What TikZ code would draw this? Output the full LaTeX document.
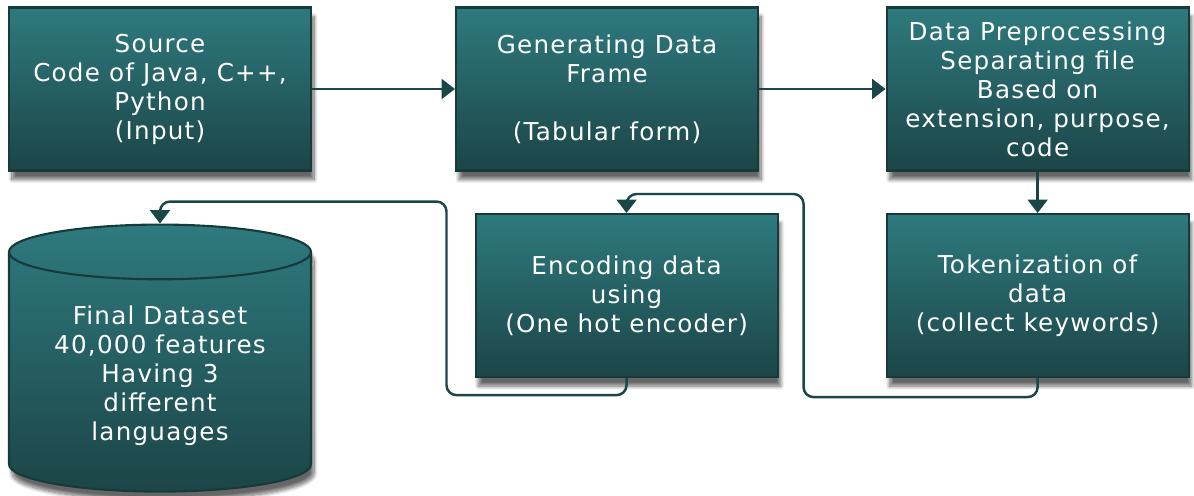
\documentclass[tikz,border=0pt]{standalone}
\usepackage{fontspec}
\setmainfont{DejaVu Sans}[LetterSpace=5]
\usetikzlibrary{shapes.geometric, arrows.meta, positioning, calc, shadows.blur}

\definecolor{tealtop}{HTML}{2E7A7E}
\definecolor{tealbot}{HTML}{1C4547}
\definecolor{tealline}{HTML}{173A3B}
\definecolor{flowline}{HTML}{1A4647}

\tikzset{
  process/.style = {rectangle, draw=tealline, line width=1.2pt,
                    top color=tealtop, bottom color=tealbot,
                    minimum width=6.04cm, minimum height=3.26cm,
                    align=center, text=white,
                    font=\fontsize{14}{16.5}\selectfont,
                    blur shadow={shadow xshift=0.6mm, shadow yshift=-1.8mm,
                                 shadow opacity=60, shadow blur steps=10}},
  store/.style   = {cylinder, shape border rotate=90, aspect=0.245,
                    draw=tealline, line width=1.2pt,
                    top color=tealtop, bottom color=tealbot,
                    minimum width=6.04cm, minimum height=5.34cm,
                    align=center, text=white,
                    font=\fontsize{14}{16.5}\selectfont,
                    blur shadow={shadow xshift=0.6mm, shadow yshift=-1.8mm,
                                 shadow opacity=60, shadow blur steps=10}},
  ->/.style      = {line width=1.4pt, draw=flowline, rounded corners=2mm,
                    -{Triangle[length=2.7mm,width=4mm]}}
}

\begin{document}
\begin{tikzpicture}
\useasboundingbox (0,0) rectangle (23.88,-9.9);

% Top row
\node[process] at (3.2,-1.78) (source) {
    Source\\Code of Java, C++,\\Python\\(Input)
};

\node[process] at ($(source.east) + (5.9cm, 0cm)$) (frame) {
    Generating Data\\Frame\\~\\(Tabular form)
};

\draw[->] (source) -- (frame);

\node[process] at ($(frame.east) + (5.57cm, 0cm)$) (prep) {
    Data Preprocessing\\Separating file\\Based on\\extension, purpose,\\code
};

\draw[->] (frame) -- (prep);

% Bottom row, running back to the left
\node[process] at ($(prep.south) + (0cm, -2.48cm)$) (token) {
    Tokenization of\\data\\(collect keywords)
};

\draw[->] (prep) -- (token);

\node[process] at ($(token.west) + (-5.18cm, 0cm)$) (encode) {
    Encoding data\\using\\(One hot encoder)
};

\draw[->] (token.south) -- ++(0,-0.38)
    -| ($(token.west) + (-1.64cm, 0cm)$)
    |- ($(encode.north) + (0cm, 0.38cm)$)
    -- (encode.north);

\node[store] at ($(source.south) + (0cm, -4.09cm)$) (dataset) {
    Final Dataset\\40,000 features\\Having 3\\different\\languages
};

\draw[->] (encode.south) -- ++(0,-0.34)
    -| ($(encode.west) + (-0.56cm, 0cm)$)
    |- ($(dataset.north) + (0cm, 0.44cm)$)
    -- (dataset.north);

\end{tikzpicture}
\end{document}
